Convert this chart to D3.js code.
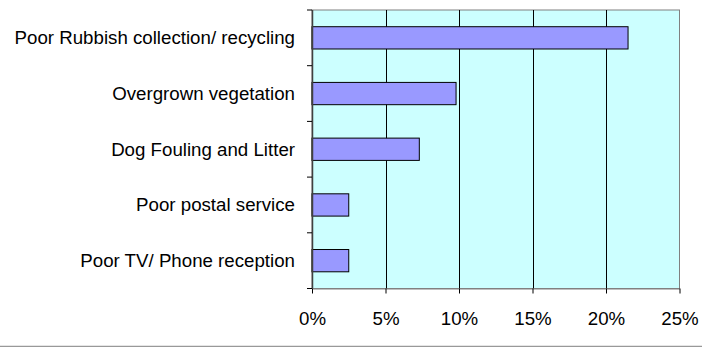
<!DOCTYPE html>
<html>
<head>
<meta charset="utf-8">
<script src="https://cdn.jsdelivr.net/npm/d3@7"></script>
<style>
  html, body { margin: 0; padding: 0; background: #fff; }
  svg { display: block; }
  text { font-family: "Liberation Sans", Arial, sans-serif; fill: #000; }
</style>
</head>
<body>
<svg id="chart" width="702" height="347"></svg>
<script>
// Share of residents naming each issue (percent)
const categories = [
  "Poor Rubbish collection/ recycling",
  "Overgrown vegetation",
  "Dog Fouling and Litter",
  "Poor postal service",
  "Poor TV/ Phone reception"
];
const values = [21.5, 9.8, 7.3, 2.5, 2.5];
const tickValues = [0, 5, 10, 15, 20, 25];

const W = 702, H = 347;
const FONT = 18.7;
const margin = { top: 10, right: 22.5, bottom: 58.5, left: 312 };
const svg = d3.select("#chart");

const x = d3.scaleLinear().domain([0, 25]).range([margin.left, W - margin.right]);
const y = d3.scaleBand().domain(categories).range([margin.top, H - margin.bottom])
  .paddingInner(0.6).paddingOuter(0.3);
const yOuter = d3.scaleBand().domain(categories).range([margin.top, H - margin.bottom]);

// plot background
svg.append("rect")
  .attr("x", x(0)).attr("y", margin.top)
  .attr("width", x(25) - x(0)).attr("height", H - margin.bottom - margin.top)
  .attr("fill", "#ccffff").attr("stroke", "#808080").attr("stroke-width", 1);

// vertical gridlines
svg.append("g").selectAll("line")
  .data(tickValues.slice(1, -1))
  .join("line")
  .attr("x1", d => Math.round(x(d)) + 0.5).attr("x2", d => Math.round(x(d)) + 0.5)
  .attr("y1", margin.top).attr("y2", H - margin.bottom)
  .attr("stroke", "#000").attr("stroke-width", 1);

// bars
svg.append("g").selectAll("rect")
  .data(values)
  .join("rect")
  .attr("x", x(0))
  .attr("y", (d, i) => y(categories[i]))
  .attr("width", d => x(d) - x(0))
  .attr("height", y.bandwidth())
  .attr("fill", "#9999ff")
  .attr("stroke", "#000").attr("stroke-width", 1);

// x axis
const xAxis = svg.append("g")
  .attr("transform", `translate(0,${H - margin.bottom})`)
  .call(d3.axisBottom(x).tickValues(tickValues).tickFormat(d => d + "%").tickSize(5).tickSizeOuter(0));
xAxis.select(".domain").attr("stroke", "#808080");
xAxis.selectAll(".tick line").attr("stroke", "#000");
xAxis.selectAll("text").attr("font-size", FONT).attr("dy", "0.71em").attr("y", 23.5)
  .attr("font-family", "Liberation Sans, Arial, sans-serif");

// y axis: ticks at category boundaries
const yAxisG = svg.append("g").attr("transform", `translate(${x(0)},0)`);
yAxisG.append("line")
  .attr("x1", 0.5).attr("x2", 0.5)
  .attr("y1", margin.top).attr("y2", H - margin.bottom)
  .attr("stroke", "#404040").attr("stroke-width", 1.5);
const boundaries = categories.map(c => yOuter(c)).concat([H - margin.bottom]);
yAxisG.selectAll("line.tk")
  .data(boundaries)
  .join("line").attr("class", "tk")
  .attr("x1", -5).attr("x2", 0)
  .attr("y1", d => d).attr("y2", d => d)
  .attr("stroke", "#000");
yAxisG.selectAll("text")
  .data(categories)
  .join("text")
  .attr("x", -17)
  .attr("y", c => yOuter(c) + yOuter.bandwidth() / 2)
  .attr("dy", "0.35em")
  .attr("text-anchor", "end")
  .attr("font-size", FONT)
  .text(c => c);

// bottom rule
svg.append("line")
  .attr("x1", 0).attr("x2", W)
  .attr("y1", 346.5).attr("y2", 346.5)
  .attr("stroke", "#999").attr("stroke-width", 1.5);
</script>
</body>
</html>
